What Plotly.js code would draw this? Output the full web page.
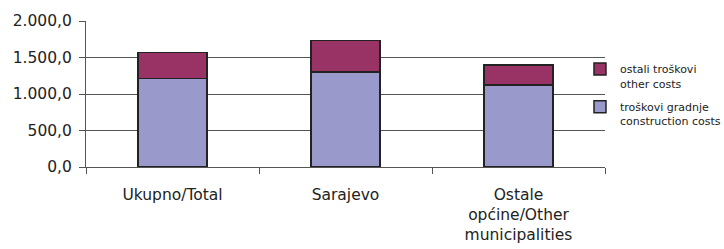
<!DOCTYPE html>
<html>
<head>
<meta charset="utf-8">
<script src="https://cdn.plot.ly/plotly-3.0.1.min.js"></script>
<style>html,body{margin:0;padding:0;background:#fff}#chart{width:724px;height:249px}</style>
</head>
<body>
<div id="chart"></div>
<script>
const categories = ["Ukupno/Total", "Sarajevo", "Ostale<br>općine/Other<br>municipalities"];
const constructionCosts = [1210, 1300, 1120];
const otherCosts = [360, 435, 280];
const seriesNames = ["troškovi gradnje<br>construction costs", "ostali troškovi<br>other costs"];
const yTicks = [0, 500, 1000, 1500, 2000];

const lineStyle = {color: "#222222", width: 1.5};
const data = [
  {type: "bar", x: categories, y: constructionCosts, name: seriesNames[0], legendgroup: "b",
   legendrank: 2, marker: {color: "#9999CC", line: lineStyle}},
  {type: "bar", x: categories, y: otherCosts, name: seriesNames[1], legendgroup: "a",
   legendrank: 1, marker: {color: "#993366", line: lineStyle}}
];
const layout = {
  width: 724, height: 249,
  margin: {l: 86, r: 119, t: 21, b: 82, autoexpand: false},
  barmode: "stack",
  bargap: 0.6,
  separators: ",.",
  paper_bgcolor: "#ffffff", plot_bgcolor: "#ffffff",
  font: {family: "DejaVu Sans, sans-serif", color: "#222222", size: 14},
  showlegend: true,
  legend: {x: 0.9518, y: 0.7645, xanchor: "left", yanchor: "top", traceorder: "grouped",
           valign: "top", font: {size: 11, color: "#222222"}, itemwidth: 30, tracegroupgap: 6,
           bgcolor: "rgba(0,0,0,0)"},
  xaxis: {showline: true, linecolor: "#555555", linewidth: 1, ticks: "outside",
          ticklen: 6, tickcolor: "#555555", tickson: "boundaries", ticklabelstandoff: 13,
          tickfont: {size: 15.5, color: "#222222"}, showgrid: false, fixedrange: true},
  yaxis: {range: [0, 2000], tickvals: yTicks, tickformat: ",.1f", showline: true,
          linecolor: "#555555", linewidth: 1, ticks: "outside", ticklen: 6,
          tickcolor: "#555555", showgrid: true, gridcolor: "#555555", gridwidth: 1,
          ticklabelstandoff: 4,
          zeroline: false, tickfont: {size: 15.5, color: "#222222"}, fixedrange: true}
};
Plotly.newPlot("chart", data, layout, {staticPlot: true});
</script>
</body>
</html>
